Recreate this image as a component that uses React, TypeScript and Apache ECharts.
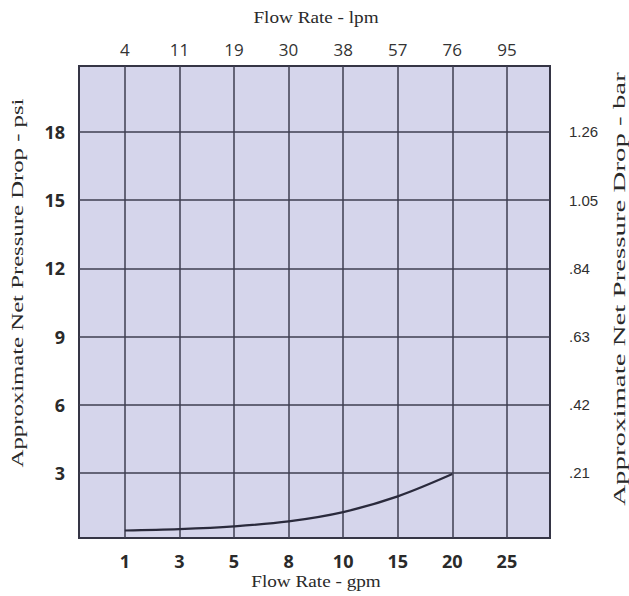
import React, { useEffect, useRef } from "react";
import * as echarts from "echarts";

const gpmLabels = ["1", "3", "5", "8", "10", "15", "20", "25"];
const lpmLabels = ["4", "11", "19", "30", "38", "57", "76", "95"];
const psiTicks = [3, 6, 9, 12, 15, 18];
const barLabels = [".21", ".42", ".63", ".84", "1.05", "1.26"];
// pressure drop (psi) at gpm positions 1,3,5,8,10,15,20
const curveIndex = [0, 1, 2, 3, 4, 5, 6];
const pressurePsi = [0.47, 0.53, 0.65, 0.87, 1.28, 1.97, 2.95];

const X_MIN = -0.84;
const X_MAX = 7.79;
const Y_MIN = 0.14;
const Y_MAX = 20.9;

export default function App() {
  const ref = useRef<HTMLDivElement>(null);
  useEffect(() => {
    if (!ref.current) return;
    const chart = echarts.init(ref.current, undefined, { renderer: "svg" });
    const gridColor = "#3e3e50";
    const titleStyle = {
      fill: "#2a2a2a",
      fontFamily: "Liberation Serif",
      fontSize: 16,
      textAlign: "center",
      textVerticalAlign: "middle",
    };
    chart.setOption({
      animation: false,
      backgroundColor: "#ffffff",
      grid: {
        left: 79,
        right: 79,
        top: 66,
        bottom: 58,
        show: true,
        backgroundColor: "#d5d5eb",
        borderColor: "#353545",
        borderWidth: 2,
      },
      xAxis: [
        {
          type: "value",
          position: "bottom",
          min: X_MIN,
          max: X_MAX,
          axisLine: { show: false },
          axisTick: { show: false },
          splitLine: { show: false },
          axisLabel: {
            customValues: gpmLabels.map((_, i) => i),
            formatter: (v: number) => gpmLabels[Math.round(v)] ?? "",
            margin: 14,
            color: "#2a2a2a",
            fontFamily: "Open Sans",
            fontWeight: "bold",
            fontSize: 18,
          },
        },
        {
          type: "value",
          position: "top",
          min: X_MIN,
          max: X_MAX,
          axisLine: { show: false },
          axisTick: { show: false },
          splitLine: { show: false },
          axisLabel: {
            customValues: lpmLabels.map((_, i) => i),
            formatter: (v: number) => lpmLabels[Math.round(v)] ?? "",
            margin: 8,
            color: "#333333",
            fontFamily: "Open Sans",
            fontSize: 17,
          },
        },
      ],
      yAxis: [
        {
          type: "value",
          position: "left",
          min: Y_MIN,
          max: Y_MAX,
          axisLine: { show: false },
          axisTick: { show: false },
          splitLine: { show: false },
          axisLabel: {
            customValues: psiTicks,
            formatter: (v: number) => String(Math.round(v)),
            margin: 14,
            color: "#2a2a2a",
            fontFamily: "Open Sans",
            fontWeight: "bold",
            fontSize: 18,
          },
        },
        {
          type: "value",
          position: "right",
          min: Y_MIN,
          max: Y_MAX,
          axisLine: { show: false },
          axisTick: { show: false },
          splitLine: { show: false },
          axisLabel: {
            customValues: psiTicks,
            formatter: (v: number) => {
              const i = psiTicks.indexOf(Math.round(v));
              return i >= 0 ? barLabels[i] : "";
            },
            margin: 19,
            color: "#2f2f2f",
            fontFamily: "Liberation Sans",
            fontSize: 15,
          },
        },
      ],
      series: [
        {
          type: "line",
          xAxisIndex: 0,
          yAxisIndex: 0,
          data: curveIndex.map((x, i) => [x, pressurePsi[i]]),
          smooth: 0.35,
          symbol: "none",
          lineStyle: { color: "#2a2a3c", width: 2.2 },
          z: 5,
          markLine: {
            silent: true,
            symbol: ["none", "none"],
            label: { show: false },
            emphasis: { disabled: true },
            lineStyle: { color: gridColor, width: 1.5, type: "solid" },
            data: [
              ...gpmLabels.map((_, i) => ({ xAxis: i })),
              ...psiTicks.map((v) => ({ yAxis: v })),
            ],
          },
        },
      ],
      graphic: [
        {
          type: "text",
          x: 316,
          y: 18,
          scaleX: 1.2,
          style: { ...titleStyle, text: "Flow Rate - lpm" },
        },
        {
          type: "text",
          x: 316,
          y: 582,
          scaleX: 1.2,
          style: { ...titleStyle, text: "Flow Rate - gpm" },
        },
        {
          type: "text",
          x: 18,
          y: 283,
          rotation: Math.PI / 2,
          scaleX: 1.5,
          style: { ...titleStyle, fontSize: 16.5, text: "Approximate Net Pressure Drop - psi" },
        },
        {
          type: "text",
          x: 619,
          y: 289,
          rotation: Math.PI / 2,
          scaleX: 1.65,
          style: { ...titleStyle, fontSize: 17.5, text: "Approximate Net Pressure Drop - bar" },
        },
      ],
    });
    return () => chart.dispose();
  }, []);
  return (
    <div
      ref={ref}
      style={{ position: "absolute", left: 0, top: 0, width: 629, height: 596 }}
    />
  );
}
